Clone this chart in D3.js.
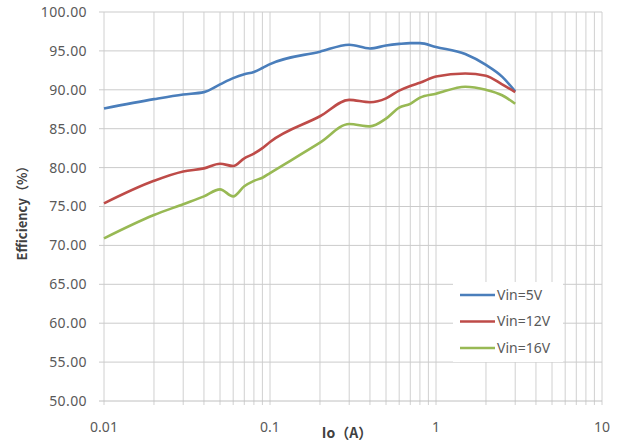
<!DOCTYPE html>
<html>
<head>
<meta charset="utf-8">
<script src="https://cdn.jsdelivr.net/npm/d3@7"></script>
<style>
  body { margin: 0; background: #fff; }
  svg { display: block; }
</style>
</head>
<body>
<div id="vis"></div>
<script>
// data
const CURRENT = [0.01, 0.02, 0.03, 0.04, 0.05, 0.06, 0.07, 0.08, 0.09, 0.1,
                 0.2, 0.3, 0.4, 0.5, 0.6, 0.7, 0.8, 1.0, 1.5, 2, 2.5, 3];
const VIN_5V  = [87.6, 88.8, 89.4, 89.7, 90.7, 91.5, 92.0, 92.3, 92.8, 93.3,
                 94.9, 95.8, 95.3, 95.7, 95.9, 96.0, 96.0, 95.5, 94.6, 93.2, 91.7, 89.8];
const VIN_12V = [75.4, 78.3, 79.5, 79.9, 80.5, 80.2, 81.2, 81.8, 82.5, 83.3,
                 86.6, 88.7, 88.4, 88.9, 89.9, 90.5, 90.9, 91.7, 92.1, 91.8, 90.7, 89.7];
const VIN_16V = [70.9, 73.9, 75.3, 76.3, 77.2, 76.3, 77.6, 78.3, 78.7, 79.3,
                 83.2, 85.6, 85.3, 86.3, 87.7, 88.2, 89.0, 89.5, 90.4, 90.0, 89.3, 88.2];
const SERIES_NAMES = ["Vin=5V", "Vin=12V", "Vin=16V"];
const SERIES_COLORS = ["#4a7ebb", "#be4b48", "#98b954"];
const Y_TICKS = [50, 55, 60, 65, 70, 75, 80, 85, 90, 95, 100];
const X_TICKS = [0.01, 0.1, 1, 10];

const FRAME_WIDTH = 619;
const FRAME_HEIGHT = 444;
const MARGINS = {left: 104, right: 17, top: 12, bottom: 43};
const VIS_WIDTH = FRAME_WIDTH - MARGINS.left - MARGINS.right;
const VIS_HEIGHT = FRAME_HEIGHT - MARGINS.top - MARGINS.bottom;

const FONT = "'Noto Sans', 'Noto Sans CJK SC', sans-serif";

const FRAME = d3.select("#vis")
  .append("svg")
    .attr("width", FRAME_WIDTH)
    .attr("height", FRAME_HEIGHT);

const X_SCALE = d3.scaleLog().domain([0.01, 10]).range([0, VIS_WIDTH]);
const Y_SCALE = d3.scaleLinear().domain([50, 100]).range([VIS_HEIGHT, 0]);

const PLOT = FRAME.append("g")
  .attr("transform", "translate(" + MARGINS.left + "," + MARGINS.top + ")");

// minor + major vertical grid lines (1..9 in each decade)
const xGrid = [];
[0.01, 0.1, 1].forEach(d => { for (let k = 1; k < 10; k++) xGrid.push(d * k); });
xGrid.push(10);

PLOT.append("g")
  .selectAll("line")
  .data(xGrid)
  .enter()
  .append("line")
    .attr("x1", d => X_SCALE(d))
    .attr("x2", d => X_SCALE(d))
    .attr("y1", 0)
    .attr("y2", VIS_HEIGHT + 4)
    .attr("stroke", "#d0d0d0")
    .attr("stroke-width", 1);

// horizontal grid lines
PLOT.append("g")
  .selectAll("line")
  .data(Y_TICKS)
  .enter()
  .append("line")
    .attr("x1", -5)
    .attr("x2", VIS_WIDTH)
    .attr("y1", d => Y_SCALE(d))
    .attr("y2", d => Y_SCALE(d))
    .attr("stroke", d => d === 50 ? "#c0c0c0" : "#cbcbcb")
    .attr("stroke-width", 1);

// y tick labels
PLOT.append("g")
  .selectAll("text")
  .data(Y_TICKS)
  .enter()
  .append("text")
    .attr("x", -17)
    .attr("y", d => Y_SCALE(d))
    .attr("dy", "0.35em")
    .attr("text-anchor", "end")
    .attr("font-family", FONT)
    .attr("font-size", "14px")
    .attr("letter-spacing", "0.4px")
    .attr("fill", "#595959")
    .text(d => d.toFixed(2));

// x tick labels
PLOT.append("g")
  .selectAll("text")
  .data(X_TICKS)
  .enter()
  .append("text")
    .attr("x", d => X_SCALE(d))
    .attr("y", VIS_HEIGHT + 31)
    .attr("text-anchor", "middle")
    .attr("font-family", FONT)
    .attr("font-size", "14px")
    .attr("fill", "#595959")
    .text(d => String(d));

// lines
const ALL_SERIES = [VIN_5V, VIN_12V, VIN_16V];
const line = d3.line()
  .x((d, i) => X_SCALE(CURRENT[i]))
  .y(d => Y_SCALE(d))
  .curve(d3.curveMonotoneX);

PLOT.append("g")
  .selectAll("path")
  .data(ALL_SERIES)
  .enter()
  .append("path")
    .attr("d", d => line(d))
    .attr("fill", "none")
    .attr("stroke", (d, i) => SERIES_COLORS[i])
    .attr("stroke-width", 2.6)
    .attr("stroke-linejoin", "round");

// legend
const LEGEND = FRAME.append("g").attr("transform", "translate(453,282)");
LEGEND.append("rect")
  .attr("width", 110)
  .attr("height", 80)
  .attr("fill", "#fff");

const items = LEGEND.selectAll("g")
  .data(SERIES_NAMES)
  .enter()
  .append("g")
    .attr("transform", (d, i) => "translate(0," + (13 + i * 26.5) + ")");

items.append("line")
  .attr("x1", 7).attr("x2", 42)
  .attr("stroke", (d, i) => SERIES_COLORS[i])
  .attr("stroke-width", 2.6);

items.append("text")
  .attr("x", 44)
  .attr("dy", "0.35em")
  .attr("font-family", FONT)
  .attr("font-size", "14px")
  .attr("fill", "#595959")
  .text(d => d);

// axis titles
FRAME.append("text")
  .attr("x", 347)
  .attr("y", 438)
  .attr("text-anchor", "middle")
  .attr("font-family", "'Noto Sans CJK SC', sans-serif")
  .attr("font-weight", "bold")
  .attr("font-size", "14px")
  .attr("fill", "#404040")
  .text("Io（A）");

FRAME.append("text")
  .attr("transform", "translate(27,210) rotate(-90)")
  .attr("text-anchor", "middle")
  .attr("font-family", "'Noto Sans CJK SC', sans-serif")
  .attr("font-weight", "bold")
  .attr("font-size", "13px")
  .attr("fill", "#404040")
  .text("Efficiency（%）");
</script>
</body>
</html>
